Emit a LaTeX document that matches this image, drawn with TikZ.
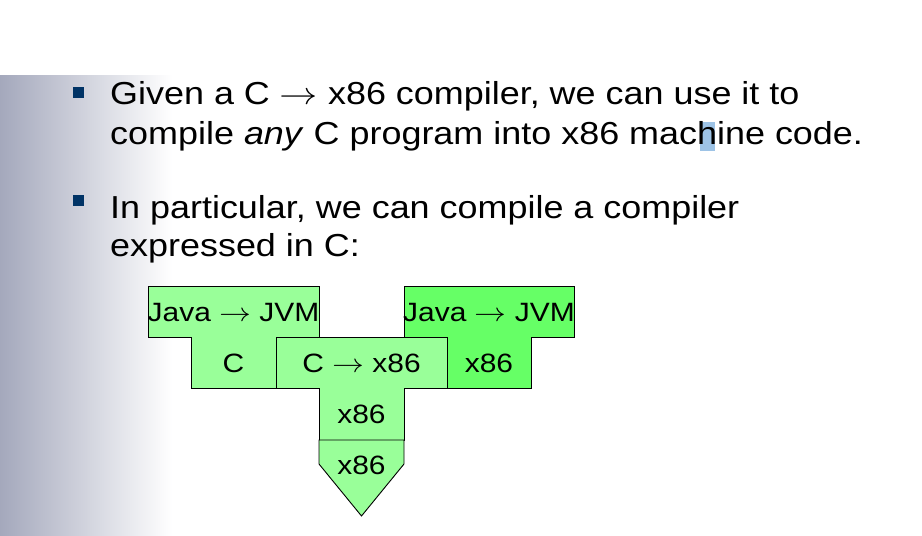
\documentclass[tikz,border=0pt]{standalone}
\usepackage{fontspec}
\setmainfont{Liberation Sans}[FakeStretch=1.13]
\newfontfamily\arrfont{latinmodern-math.otf}[FakeStretch=1.2]
\definecolor{lgreen}{HTML}{99FF99}
\definecolor{dgreen}{HTML}{66FF66}
\definecolor{bulletblue}{HTML}{003366}
\definecolor{sidegray}{HTML}{A4A8BC}
\definecolor{selblue}{HTML}{9DC3E6}
\newcommand{\toarr}{{\arrfont →}}

\begin{document}
\begin{tikzpicture}[x=1pt,y=-1pt,
  txtline/.style={font=\fontsize{31.8}{38}\selectfont, anchor=base west, inner sep=0pt},
  lbl/.style={font=\fontsize{26.5}{32}\selectfont, anchor=base, inner sep=0pt},
  tshape/.style={draw=black, line width=0.9pt, line join=miter},
  sq/.style={fill=bulletblue}]

\useasboundingbox (0,0) rectangle (922,536);
\shade [left color=sidegray, right color=white] (0,75) rectangle (172,536);

\fill [sq] (73.3,87.3) rectangle (84,97.8);
\fill [sq] (73.3,195) rectangle (84,205.5);

\fill [selblue] (699.5,121.5) rectangle (715,150.5);

\node [txtline] (given) at (110,104.5) {Given a C \toarr{} x86 compiler, we can use it to};
\node [txtline] (anyc) at (110,144.5) {compile \textit{any} C program into x86 machine code.};
\node [txtline] (partic) at (110,218.5) {In particular, we can compile a compiler};
\node [txtline] (expr) at (110,256) {expressed in C:};

\draw [tshape, fill=lgreen] (148,286) -- (319,286) -- (319,337) -- (276,337) -- (276,388)
  -- (191,388) -- (191,337) -- (148,337) -- cycle;
\draw [tshape, fill=dgreen] (404,286) -- (574,286) -- (574,337) -- (531,337) -- (531,388)
  -- (447,388) -- (447,337) -- (404,337) -- cycle;
\draw [tshape, fill=lgreen] (276,337) -- (447,337) -- (447,388) -- (404,388) -- (404,440)
  -- (319,440) -- (319,388) -- (276,388) -- cycle;
\draw [tshape, fill=lgreen] (319,440) -- (404,440) -- (404,464) -- (361.5,516)
  -- (319,464) -- cycle;

\node [lbl] (srcl) at (233.5,321.5) {Java \toarr{} JVM};
\node [lbl] (impl) at (233.5,372.5) {C};
\node [lbl] (srcm) at (361.5,372.5) {C \toarr{} x86};
\node [lbl] (impm) at (361.5,423) {x86};
\node [lbl] (mach) at (361.5,474.5) {x86};
\node [lbl] (srcr) at (489,321.5) {Java \toarr{} JVM};
\node [lbl] (impr) at (489,372.5) {x86};

\end{tikzpicture}
\end{document}
